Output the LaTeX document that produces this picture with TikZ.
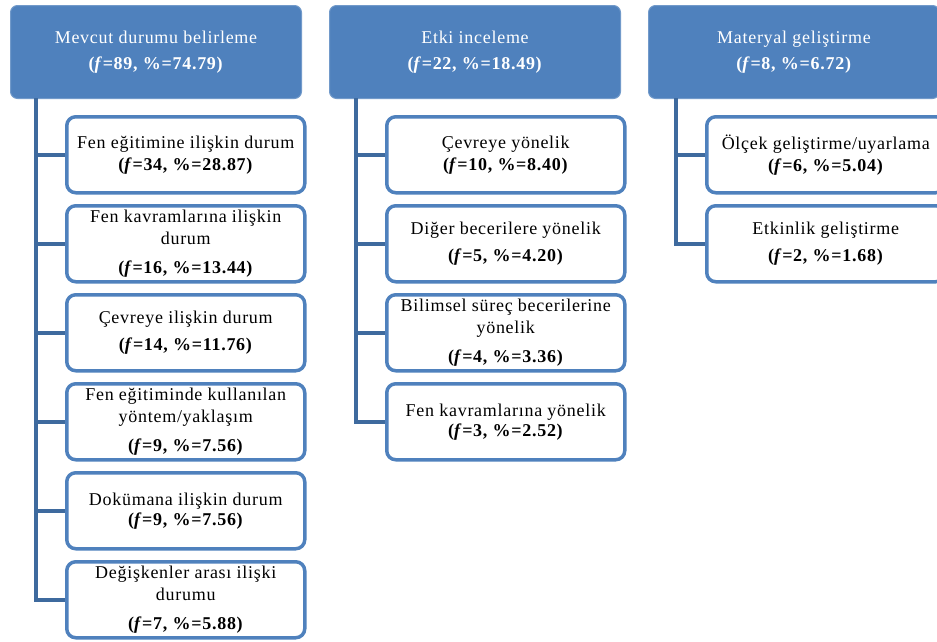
\documentclass[tikz,border=0pt]{standalone}
\usepackage{fontspec}
\setmainfont[LetterSpace=4]{Liberation Serif}
\usetikzlibrary{positioning}

\definecolor{hdblue}{HTML}{4F81BD}
\definecolor{lnblue}{HTML}{3E6A9E}
\newcommand{\fq}[2]{\textbf{(\textit{f}=#1, \%=#2)}}

\tikzset{
  head/.style={draw=hdblue!80!white, line width=1pt, fill=hdblue, rounded corners=7pt,
    minimum width=291pt, minimum height=93pt, anchor=north west, align=center,
    text=white, font=\fontsize{18}{26}\selectfont},
  item/.style={draw=hdblue, line width=3.5pt, fill=white, rounded corners=9pt,
    minimum width=238pt, minimum height=76pt, anchor=north west, align=center,
    inner xsep=2pt, font=\fontsize{18}{22}\selectfont},
  trunk/.style={draw=lnblue, line width=4pt},
}

\begin{document}
\begin{tikzpicture}[x=1pt,y=-1pt]
\useasboundingbox (0,0) rectangle (937,641);

% headers
\node[head] (h1) at (10,5) {Mevcut durumu belirleme\\ \fq{89}{74.79}};
\node[head] (h2) at (329,5) {Etki inceleme\\ \fq{22}{18.49}};
\node[head] (h3) at (648,5) {Materyal geliştirme\\ \fq{8}{6.72}};

\coordinate (t1) at (36,98);
\coordinate (t2) at (356,98);
\coordinate (t3) at (676,98);

% first column
\node[item] (c11) at (65,115) {Fen eğitimine ilişkin durum\\ \fq{34}{28.87}};
\node[item] (c12) at (65,204) {Fen kavramlarına ilişkin\\ durum\\[7pt] \fq{16}{13.44}};
\node[item] (c13) at (65,293) {Çevreye ilişkin durum\\[5pt] \fq{14}{11.76}};
\node[item] (c14) at (65,382) {Fen eğitiminde kullanılan\\ yöntem/yaklaşım\\[7pt] \fq{9}{7.56}};
\node[item] (c15) at (65,471) {Dokümana ilişkin durum\\[-2pt] \fq{9}{7.56}};
\node[item] (c16) at (65,560) {Değişkenler arası ilişki\\ durumu\\[7pt] \fq{7}{5.88}};

% second column
\node[item] (c21) at (385,115) {Çevreye yönelik\\ \fq{10}{8.40}};
\node[item] (c22) at (385,204) {Diğer becerilere yönelik\\[5pt] \fq{5}{4.20}};
\node[item] (c23) at (385,293) {Bilimsel süreç becerilerine\\ yönelik\\[7pt] \fq{4}{3.36}};
\node[item] (c24) at (385,382) {Fen kavramlarına yönelik\\[-2pt] \fq{3}{2.52}};

% third column
\node[item] (c31) at (705,115) {Ölçek geliştirme/uyarlama\\ \fq{6}{5.04}};
\node[item] (c32) at (705,204) {Etkinlik geliştirme\\[5pt] \fq{2}{1.68}};

\draw[trunk] (t1) |- (c16.west);
\foreach \c in {c11,c12,c13,c14,c15} \draw[trunk] (t1) |- (\c.west);
\draw[trunk] (t2) |- (c24.west);
\foreach \c in {c21,c22,c23} \draw[trunk] (t2) |- (\c.west);
\draw[trunk] (t3) |- (c32.west);
\draw[trunk] (t3) |- (c31.west);
\end{tikzpicture}
\end{document}
